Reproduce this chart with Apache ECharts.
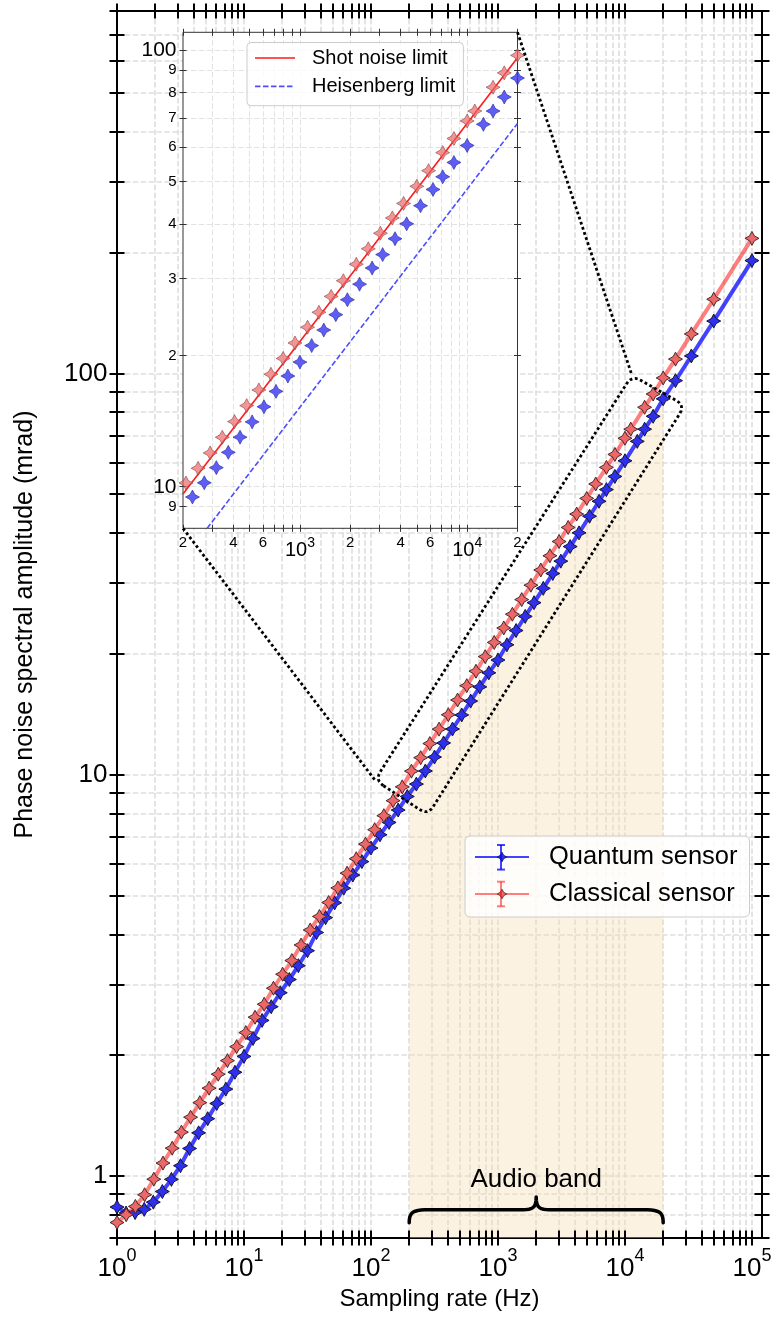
<!DOCTYPE html>
<html>
<head>
<meta charset="utf-8">
<title>Phase noise spectral amplitude vs sampling rate</title>
<script src="https://cdn.jsdelivr.net/npm/echarts@6.0.0/dist/echarts.min.js"></script>
<style>
  html, body { margin: 0; padding: 0; background: #ffffff; }
  #chart { width: 777px; height: 1320px; }
</style>
</head>
<body>
<div id="chart"></div>
<script>
// ---- measured data: sampling rate (Hz) and phase-noise amplitude (mrad) ----
const quantumRate = [1, 1.179, 1.389, 1.638, 1.931, 2.276, 2.683, 3.162, 3.728, 4.394,
  5.179, 6.105, 7.197, 8.483, 10, 11.79, 13.89, 16.38, 19.31, 22.76,
  26.82, 31.63, 37.27, 43.94, 51.79, 61.05, 71.99, 84.82, 100, 117.9,
  138.9, 163.7, 193.1, 227.8, 268.1, 316.5, 373.1, 438.6, 518.1, 609.8,
  719.4, 847.5, 1000, 1176, 1389, 1639, 1923, 2273, 2703, 3125,
  3704, 4348, 5263, 6250, 7143, 8333, 10000, 12500, 14286, 16667,
  20000, 25000, 33333, 50000, 100000];
const quantumNoise = [0.836, 0.808, 0.810, 0.825, 0.860, 0.914, 0.980, 1.060, 1.170, 1.280,
  1.388, 1.515, 1.645, 1.812, 1.985, 2.200, 2.440, 2.640, 2.860, 3.085,
  3.340, 3.640, 4.040, 4.400, 4.790, 5.210, 5.620, 6.070, 6.560, 7.080,
  7.600, 8.160, 8.820, 9.470, 10.21, 11.06, 11.99, 12.99, 14.08, 15.25,
  16.54, 17.93, 19.30, 21.06, 22.86, 24.79, 26.82, 29.12, 31.71, 34.04,
  37.01, 40.04, 44.05, 48.00, 51.32, 55.35, 60.54, 67.69, 72.60, 78.17,
  86.40, 95.90, 110.5, 135.0, 191.0];

const classicalRate = [1, 1.182, 1.396, 1.650, 1.949, 2.303, 2.721, 3.215, 3.799, 4.489,
  5.309, 6.268, 7.406, 8.751, 10.34, 12.22, 14.43, 17.06, 20.15, 23.81,
  28.14, 33.24, 39.28, 46.43, 54.86, 64.81, 76.57, 90.50, 106.9, 126.3,
  149.3, 176.4, 208.3, 246.3, 290.7, 343.6, 406.5, 480.8, 568.2, 671.1,
  793.7, 934.6, 1111, 1299, 1538, 1818, 2174, 2564, 3030, 3571,
  4167, 5000, 5882, 7143, 8333, 10000, 11111, 14286, 16667, 20000,
  25000, 33333, 50000, 100000];
const classicalNoise = [0.765, 0.800, 0.839, 0.897, 0.981, 1.076, 1.172, 1.285, 1.400, 1.522,
  1.654, 1.792, 1.937, 2.099, 2.275, 2.485, 2.677, 2.935, 3.180, 3.440,
  3.760, 4.100, 4.430, 4.800, 5.220, 5.680, 6.170, 6.710, 7.290, 7.900,
  8.610, 9.320, 10.20, 11.02, 11.95, 12.98, 14.10, 15.34, 16.66, 18.10,
  19.68, 21.35, 23.20, 25.10, 27.30, 29.65, 32.35, 35.10, 38.10, 41.30,
  44.60, 48.80, 53.00, 58.30, 62.80, 68.90, 72.60, 82.30, 88.80, 97.40,
  108.5, 125.4, 153.0, 217.0];

// reference limits, end points inside the zoomed panel
const limitRate = [200, 20000];
const shotNoiseLimit = [9.62, 96.2];
const heisenbergLimit = [6.80, 68.0];

// audio band: 200 Hz .. 20 kHz, shaded below the quantum curve
const audioBandRate = [200, 20000];
const audioBandStartLevel = 8.95;

// tick labels
const mainRateLabels = [1, 10, 100, 1000, 10000, 100000];
const mainNoiseLabels = [1, 10, 100];
const insetRateLabels = [200, 400, 600, 1000, 2000, 4000, 6000, 10000, 20000];
const insetNoiseLabels = [9, 10, 20, 30, 40, 50, 60, 70, 80, 90, 100];

// zoom window (data-space corners) shown by the dotted frame
const zoomFrameRate = [107.5, 11353, 29680, 281];
const zoomFrameNoise = [9.69, 98.9, 83.2, 7.93];

// ---- layout / style ----
const FONT = "'Liberation Sans', Arial, Helvetica, sans-serif";
const STAR = 'path://M0,-10 L3.5,-3.5 L10,0 L3.5,3.5 L0,10 L-3.5,3.5 L-10,0 L-3.5,-3.5 Z';
const BLUE_LINE = 'rgba(0,0,255,0.74)';
const RED_LINE = 'rgba(255,0,0,0.5)';
const X_MIN = 1, X_MAX = 1.2e5, Y_MIN = 0.7, Y_MAX = 800;
const IX_MIN = 200, IX_MAX = 20000, IY_MIN = 8.03, IY_MAX = 110;

function logTicks(lo, hi) {
  const out = [];
  for (let e = Math.floor(Math.log10(lo)) - 1; e <= Math.ceil(Math.log10(hi)); e++) {
    for (let m = 1; m <= 9; m++) {
      const v = parseFloat((m * Math.pow(10, e)).toPrecision(6));
      if (v >= lo * 0.99999 && v <= hi * 1.00001) out.push(v);
    }
  }
  return out;
}
const inner = (vals, lo, hi) => vals.filter(v => v > lo * 1.0001 && v < hi * 0.9999);
const pairs = (xs, ys) => xs.map((x, i) => [x, ys[i]]);
const isDecade = v => { const e = Math.log10(v); return Math.abs(e - Math.round(e)) < 1e-6; };
const leading = v => Math.round(v / Math.pow(10, Math.floor(Math.log10(v) + 1e-9)));

const mainXTicks = logTicks(X_MIN, X_MAX);
const mainYTicks = logTicks(Y_MIN, Y_MAX);
const insetXTicks = logTicks(IX_MIN, IX_MAX);
const insetYTicks = logTicks(IY_MIN, IY_MAX);

function axis(o) {
  return Object.assign({
    type: 'log', logBase: 10,
    axisLine: { show: false, onZero: false },
    axisTick: { show: false },
    axisLabel: { show: false },
    splitLine: { show: false },
    minorTick: { show: false },
    minorSplitLine: { show: false },
    nameMoveOverlap: false,
    silent: true
  }, o);
}

const mainRange = { x: { min: X_MIN, max: X_MAX }, y: { min: Y_MIN, max: Y_MAX } };
const insetRange = { x: { min: IX_MIN, max: IX_MAX }, y: { min: IY_MIN, max: IY_MAX } };

const mainTick = (vals) => ({ show: true, inside: false, length: 15, customValues: vals,
  lineStyle: { color: '#000', width: 2 } });
const insetTick = (vals) => ({ show: true, inside: false, length: 7, customValues: vals,
  lineStyle: { color: '#333', width: 1 } });
const gridLine = (w, c) => ({ show: true, lineStyle: { color: c, width: w, type: [5.5, 2.4] } });

const xAxes = [
  // 0: main bottom (ticks, labels, title)
  axis(Object.assign({ gridIndex: 0, position: 'bottom', offset: -7.5, z: 2,
    axisTick: mainTick(mainXTicks),
    axisLabel: { show: true, customValues: mainRateLabels, margin: 17,
      formatter: v => '{b|10}{s|' + Math.round(Math.log10(v)) + '}',
      rich: {
        b: { fontSize: 26, lineHeight: 34, verticalAlign: 'bottom', fontFamily: FONT, color: '#000' },
        s: { fontSize: 18, lineHeight: 21, verticalAlign: 'top', fontFamily: FONT, color: '#000' }
      } },
    name: 'Sampling rate (Hz)', nameLocation: 'middle', nameGap: 57,
    nameTextStyle: { fontSize: 24, fontFamily: FONT, color: '#000' } }, mainRange.x)),
  // 1: main top ticks
  axis(Object.assign({ gridIndex: 0, position: 'top', offset: -7.5, z: 2,
    axisTick: mainTick(mainXTicks) }, mainRange.x)),
  // 2: main vertical grid lines
  axis(Object.assign({ gridIndex: 0, position: 'bottom', z: 0,
    axisTick: { show: false, customValues: inner(mainXTicks, X_MIN, X_MAX) },
    splitLine: gridLine(1.6, '#dedede') }, mainRange.x)),
  // 3: inset bottom (ticks, labels)
  axis(Object.assign({ gridIndex: 1, position: 'bottom', offset: -3.5, z: 6,
    axisTick: insetTick(insetXTicks),
    axisLabel: { show: true, customValues: insetRateLabels, margin: 11,
      formatter: v => isDecade(v) ? '{b|10}{s|' + Math.round(Math.log10(v)) + '}' : '{m|' + leading(v) + '}',
      rich: {
        b: { fontSize: 20, lineHeight: 25, verticalAlign: 'bottom', fontFamily: FONT, color: '#000' },
        s: { fontSize: 14, lineHeight: 16, verticalAlign: 'top', fontFamily: FONT, color: '#000' },
        m: { fontSize: 15, lineHeight: 20, verticalAlign: 'top', fontFamily: FONT, color: '#000' }
      } } }, insetRange.x)),
  // 4: inset top ticks
  axis(Object.assign({ gridIndex: 1, position: 'top', offset: -3.5, z: 6,
    axisTick: insetTick(insetXTicks) }, insetRange.x)),
  // 5: inset vertical grid lines
  axis(Object.assign({ gridIndex: 1, position: 'bottom', z: 4,
    axisTick: { show: false, customValues: inner(insetXTicks, IX_MIN, IX_MAX) },
    splitLine: gridLine(1.0, '#e2e2e2') }, insetRange.x))
];

const yAxes = [
  // 0: main left (ticks, labels, title)
  axis(Object.assign({ gridIndex: 0, position: 'left', offset: -7.5, z: 2,
    axisTick: mainTick(mainYTicks),
    axisLabel: { show: true, customValues: mainNoiseLabels, margin: 17,
      fontSize: 26, fontFamily: FONT, color: '#000', formatter: v => String(Math.round(v)) },
    name: 'Phase noise spectral amplitude (mrad)', nameLocation: 'middle', nameGap: 87,
    nameTextStyle: { fontSize: 25, fontFamily: FONT, color: '#000' } }, mainRange.y)),
  // 1: main right ticks
  axis(Object.assign({ gridIndex: 0, position: 'right', offset: -7.5, z: 2,
    axisTick: mainTick(mainYTicks) }, mainRange.y)),
  // 2: main horizontal grid lines
  axis(Object.assign({ gridIndex: 0, position: 'left', z: 0,
    axisTick: { show: false, customValues: inner(mainYTicks, Y_MIN, Y_MAX) },
    splitLine: gridLine(1.6, '#dedede') }, mainRange.y)),
  // 3: inset left (ticks, labels)
  axis(Object.assign({ gridIndex: 1, position: 'left', offset: -3.5, z: 6,
    axisTick: insetTick(insetYTicks),
    axisLabel: { show: true, customValues: insetNoiseLabels, margin: 10,
      formatter: v => isDecade(v) ? '{b|' + Math.round(v) + '}' : '{m|' + leading(v) + '}',
      rich: {
        b: { fontSize: 21, fontFamily: FONT, color: '#000' },
        m: { fontSize: 15, fontFamily: FONT, color: '#000' }
      } } }, insetRange.y)),
  // 4: inset right ticks
  axis(Object.assign({ gridIndex: 1, position: 'right', offset: -3.5, z: 6,
    axisTick: insetTick(insetYTicks) }, insetRange.y)),
  // 5: inset horizontal grid lines
  axis(Object.assign({ gridIndex: 1, position: 'left', z: 4,
    axisTick: { show: false, customValues: inner(insetYTicks, IY_MIN, IY_MAX) },
    splitLine: gridLine(1.0, '#e2e2e2') }, insetRange.y))
];

const bandData = [[audioBandRate[0], audioBandStartLevel]].concat(
  pairs(quantumRate, quantumNoise).filter(p => p[0] > audioBandRate[0] && p[0] <= audioBandRate[1]));

const SOLID_ICON = 'path://M0,0M40,20M0,9.2H40V10.8H0Z';
const DASH_ICON = 'path://M0,0M40,20M0,9.2H5.5V10.8H0Z M8,9.2H13.5V10.8H8Z M16,9.2H21.5V10.8H16Z M24,9.2H29.5V10.8H24Z M32,9.2H37.5V10.8H32Z';

const markerStyle = (fill, edge, w) => ({ color: fill, borderColor: edge, borderWidth: w });

const option = {
  animation: false,
  backgroundColor: '#ffffff',
  textStyle: { fontFamily: FONT },
  grid: [
    { left: 117, right: 15, top: 11, bottom: 82, show: true, backgroundColor: 'transparent',
      borderColor: '#000', borderWidth: 2, z: 1, containLabel: false, outerBoundsMode: 'none' },
    { left: 183, right: 259.5, top: 32.3, bottom: 791.7, show: true, backgroundColor: '#ffffff',
      borderWidth: 0, z: 3, containLabel: false, outerBoundsMode: 'none' }
  ],
  xAxis: xAxes,
  yAxis: yAxes,
  legend: [
    { data: ['Quantum sensor', 'Classical sensor'], orient: 'vertical', left: 465, top: 836,
      itemWidth: 54, itemHeight: 12, itemGap: 11, padding: [8, 12, 10, 9],
      backgroundColor: 'rgba(255,255,255,0.8)', borderColor: '#cccccc', borderWidth: 1, borderRadius: 5,
      itemStyle: { borderWidth: 0.8 },
      textStyle: { fontSize: 25.5, fontFamily: FONT, color: '#000', padding: [0, 0, 0, 15] },
      selectedMode: false, z: 8 },
    { data: [{ name: 'Shot noise limit', icon: SOLID_ICON }, { name: 'Heisenberg limit', icon: DASH_ICON }],
      orient: 'vertical', left: 247, top: 42.5,
      itemWidth: 40, itemHeight: 20, itemGap: 8.4, padding: [5.5, 8, 9.3, 8],
      backgroundColor: 'rgba(255,255,255,0.8)', borderColor: '#cccccc', borderWidth: 1, borderRadius: 4,
      textStyle: { fontSize: 20, fontFamily: FONT, color: '#000', padding: [0, 0, 0, 12] },
      selectedMode: false, z: 8 }
  ],
  series: [
    { name: 'Audio band', type: 'line', xAxisIndex: 0, yAxisIndex: 0, data: bandData,
      symbol: 'none', lineStyle: { width: 0, opacity: 0 },
      areaStyle: { color: 'rgba(245,222,179,0.55)', origin: 'start' },
      silent: true, z: 1 },
    { name: 'Quantum sensor', type: 'line', xAxisIndex: 0, yAxisIndex: 0,
      data: pairs(quantumRate, quantumNoise),
      symbol: STAR, symbolSize: 14, showSymbol: true,
      lineStyle: { color: BLUE_LINE, width: 4 },
      itemStyle: markerStyle('#2f2fee', '#15153a', 1),
      emphasis: { disabled: true }, silent: true, z: 3 },
    { name: 'Classical sensor', type: 'line', xAxisIndex: 0, yAxisIndex: 0,
      data: pairs(classicalRate, classicalNoise),
      symbol: STAR, symbolSize: 14, showSymbol: true,
      lineStyle: { color: RED_LINE, width: 4 },
      itemStyle: markerStyle('#ec6767', '#4a2a2a', 1),
      emphasis: { disabled: true }, silent: true, z: 4 },
    { name: 'Shot noise limit', type: 'line', xAxisIndex: 3, yAxisIndex: 3,
      data: pairs(limitRate, shotNoiseLimit), symbol: 'none', color: '#ff1a1a',
      lineStyle: { color: '#ff1a1a', width: 1.6 }, clip: true, silent: true, z: 6 },
    { name: 'Heisenberg limit', type: 'line', xAxisIndex: 3, yAxisIndex: 3,
      data: pairs(limitRate, heisenbergLimit), symbol: 'none', color: '#4d4dff',
      lineStyle: { color: '#4d4dff', width: 1.6, type: [5.5, 2.4] }, clip: true, silent: true, z: 6 },
    { name: 'Quantum sensor detail', type: 'scatter', xAxisIndex: 3, yAxisIndex: 3,
      data: pairs(quantumRate, quantumNoise), symbol: STAR, symbolSize: 14,
      itemStyle: markerStyle('#3636f4', '#2a2a9a', 0.8), clip: true, silent: true, z: 7 },
    { name: 'Classical sensor detail', type: 'scatter', xAxisIndex: 3, yAxisIndex: 3,
      data: pairs(classicalRate, classicalNoise), symbol: STAR, symbolSize: 14,
      itemStyle: markerStyle('rgba(238,100,100,0.85)', '#8a4a4a', 0.8), clip: true, silent: true, z: 7 }
  ]
};

const chart = echarts.init(document.getElementById('chart'), null, { renderer: 'canvas' });
chart.setOption(option);

// ---- annotations placed through the axes' own scales ----
function cubic(p0, p1, p2, p3, n) {
  const pts = [];
  for (let i = 1; i <= n; i++) {
    const t = i / n, u = 1 - t;
    pts.push([
      u * u * u * p0[0] + 3 * u * u * t * p1[0] + 3 * u * t * t * p2[0] + t * t * t * p3[0],
      u * u * u * p0[1] + 3 * u * u * t * p1[1] + 3 * u * t * t * p2[1] + t * t * t * p3[1]
    ]);
  }
  return pts;
}
function toward(p, q, r) {
  const dx = q[0] - p[0], dy = q[1] - p[1], L = Math.hypot(dx, dy);
  return [p[0] + dx / L * r, p[1] + dy / L * r];
}
function roundedPolygon(pts, r) {
  const out = [];
  const n = pts.length;
  for (let i = 0; i < n; i++) {
    const p0 = pts[(i - 1 + n) % n], p1 = pts[i], p2 = pts[(i + 1) % n];
    const a = toward(p1, p0, r), b = toward(p1, p2, r);
    out.push(a);
    for (let k = 1; k <= 6; k++) {
      const t = k / 6, u = 1 - t;
      out.push([u * u * a[0] + 2 * u * t * p1[0] + t * t * b[0], u * u * a[1] + 2 * u * t * p1[1] + t * t * b[1]]);
    }
  }
  out.push(out[0]);
  return out;
}

function drawAnnotations() {
  const m = (x, y) => chart.convertToPixel({ xAxisIndex: 0, yAxisIndex: 0 }, [x, y]);
  const ins = (x, y) => chart.convertToPixel({ xAxisIndex: 3, yAxisIndex: 3 }, [x, y]);
  const dotted = { fill: 'none', stroke: '#000', lineWidth: 2.8, lineDash: [2.8, 2.6] };

  const frame = zoomFrameRate.map((x, i) => m(x, zoomFrameNoise[i]));
  const insBL = ins(IX_MIN, IY_MIN), insTR = ins(IX_MAX, IY_MAX);

  // curly brace under the audio band
  const xl = m(audioBandRate[0], 1)[0], xr = m(audioBandRate[1], 1)[0];
  const xm = m(Math.sqrt(audioBandRate[0] * audioBandRate[1]), 1)[0];
  const yEnd = m(1, 0.764)[1], yArm = m(1, 0.823)[1], yTip = m(1, 0.886)[1];
  const q = 20, qt = 16;
  let brace = [[xl, yEnd]];
  brace = brace.concat(cubic([xl, yEnd], [xl, yArm + 2], [xl + 4, yArm], [xl + q, yArm], 10));
  brace.push([xm - qt, yArm]);
  brace = brace.concat(cubic([xm - qt, yArm], [xm - 4, yArm], [xm, yArm - 1], [xm, yTip], 10));
  brace = brace.concat(cubic([xm, yTip], [xm, yArm - 1], [xm + 4, yArm], [xm + qt, yArm], 10));
  brace.push([xr - q, yArm]);
  brace = brace.concat(cubic([xr - q, yArm], [xr - 4, yArm], [xr, yArm + 2], [xr, yEnd], 10));
  const textPos = m(Math.sqrt(audioBandRate[0] * audioBandRate[1]), 0.977);

  // error-bar glyphs for the main legend entries
  const legendBar = (cx, cy, color) => [
    { type: 'line', z: 20, shape: { x1: cx, y1: cy - 12.3, x2: cx, y2: cy + 12.3 }, style: { stroke: color, lineWidth: 2 } },
    { type: 'line', z: 20, shape: { x1: cx - 4, y1: cy - 12.3, x2: cx + 4, y2: cy - 12.3 }, style: { stroke: color, lineWidth: 2 } },
    { type: 'line', z: 20, shape: { x1: cx - 4, y1: cy + 12.3, x2: cx + 4, y2: cy + 12.3 }, style: { stroke: color, lineWidth: 2 } }
  ];

  const elements = [
    { type: 'rect', z: 5, silent: true,
      shape: { x: insBL[0], y: insTR[1], width: insTR[0] - insBL[0], height: insBL[1] - insTR[1] },
      style: { fill: 'none', stroke: '#333', lineWidth: 1 } },
    { type: 'polyline', z: 10, silent: true, shape: { points: roundedPolygon(frame, 10) }, style: dotted },
    { type: 'polyline', z: 10, silent: true, shape: { points: [insBL, frame[0]] }, style: dotted },
    { type: 'polyline', z: 10, silent: true, shape: { points: [insTR, frame[1]] }, style: dotted },
    { type: 'polyline', z: 10, silent: true, shape: { points: brace },
      style: { fill: 'none', stroke: '#000', lineWidth: 3.5, lineJoin: 'round', lineCap: 'round' } },
    { type: 'text', z: 10, silent: true, x: textPos[0], y: textPos[1],
      style: { text: 'Audio band', fontSize: 26, fontFamily: FONT, fill: '#000', align: 'center', verticalAlign: 'middle' } }
  ].concat(legendBar(501, 857.3, BLUE_LINE), legendBar(501, 894, RED_LINE));

  chart.setOption({ graphic: { elements: elements } });
}
drawAnnotations();
</script>
</body>
</html>
